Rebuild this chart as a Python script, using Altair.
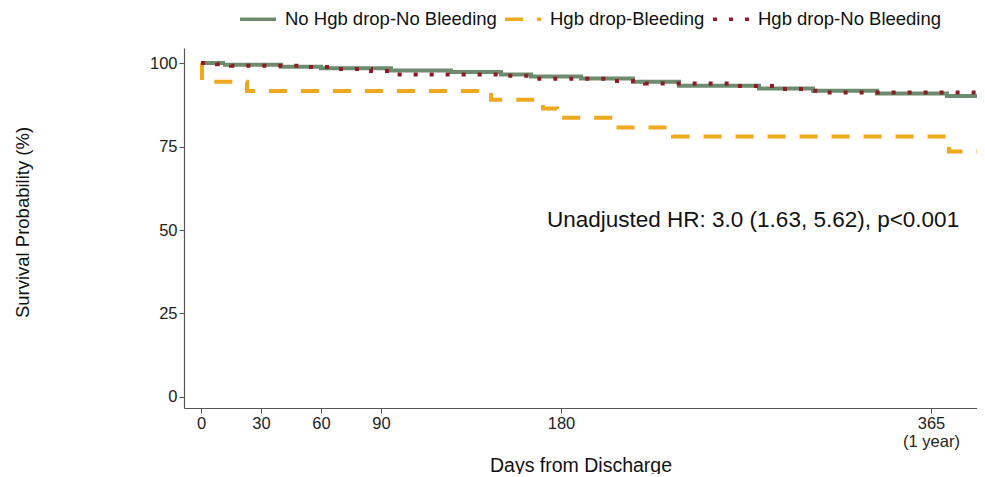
import altair as alt
import pandas as pd

series_names = ["No Hgb drop-No Bleeding", "Hgb drop-Bleeding", "Hgb drop-No Bleeding"]
series_colors = ["#6D8B6F", "#F0A81E", "#8E1B26"]
series_dash = [[1, 0], [18, 14], [4, 12]]

green_days = [0, 12, 40, 60, 95, 125, 150, 165, 190, 216, 239, 279, 306, 338, 373, 395]
green_surv = [100, 99.5, 98.9, 98.4, 97.8, 97.3, 96.6, 96.0, 95.4, 94.4, 93.2, 92.4, 91.7, 90.9, 90.1, 89.7]

orange_days = [0, 0.5, 23, 145, 171, 178, 206, 236, 374, 391, 395]
orange_surv = [100, 94.4, 91.6, 89.0, 86.4, 83.6, 80.7, 78.0, 73.5, 68.5, 68.5]

red_days = [0, 8, 15, 50, 65, 85, 95, 150, 165, 205, 222, 268, 290, 302, 310, 395]
red_surv = [100, 99.6, 99.2, 98.8, 98.2, 97.6, 96.6, 96.2, 95.3, 94.6, 93.9, 93.1, 92.2, 91.7, 91.2, 91.2]

x_ticks = [0, 30, 60, 90, 180, 365]
y_ticks = [0, 25, 50, 75, 100]

hr_text = ["Unadjusted HR: 3.0 (1.63, 5.62), p<0.001"]
hr_x = [173]
hr_y = [53.0]

rows = []
for name, days, surv in zip(series_names, [green_days, orange_days, red_days],
                            [green_surv, orange_surv, red_surv]):
    for d, s in zip(days, surv):
        rows.append({"group": name, "day": d, "surv": s})
df = pd.DataFrame(rows)

FONT = "Liberation Sans"

x_enc = alt.X(
    "day:Q",
    scale=alt.Scale(domain=[-8.5, 388], nice=False, zero=False),
    axis=alt.Axis(
        values=x_ticks,
        title="Days from Discharge",
        labelExpr="datum.value == 365 ? ['365', '(1 year)'] : datum.label",
        titleY=57,
        titleBaseline="middle",
    ),
)
y_enc = alt.Y(
    "surv:Q",
    scale=alt.Scale(domain=[-3.3, 104.5], nice=False, zero=False),
    axis=alt.Axis(
        values=y_ticks,
        title="Survival Probability (%)",
        titleX=-162,
        titleY=174,
        titleBaseline="middle",
    ),
)

legend = alt.Legend(
    title=None,
    orient="none",
    direction="horizontal",
    legendX=54,
    legendY=-49,
    columns=3,
    symbolType="stroke",
    symbolSize=1300,
    symbolStrokeWidth=3.5,
    labelFontSize=18.5,
    labelFont=FONT,
    labelColor="#111111",
    labelOffset=7,
    labelLimit=400,
    columnPadding=0,
    padding=0,
)

lines = alt.Chart(df).mark_line(
    interpolate="step-after", strokeWidth=4, clip=True, strokeCap="butt"
).encode(
    x=x_enc,
    y=y_enc,
    color=alt.Color("group:N", scale=alt.Scale(domain=series_names, range=series_colors),
                    legend=legend, sort=series_names),
    strokeDash=alt.StrokeDash("group:N", scale=alt.Scale(domain=series_names, range=series_dash),
                              legend=legend, sort=series_names),
)

ann_df = pd.DataFrame({"x": hr_x, "y": hr_y, "t": hr_text})
ann = alt.Chart(ann_df).mark_text(
    align="left", baseline="middle", fontSize=22.5, font=FONT, color="#111111"
).encode(x="x:Q", y="y:Q", text="t:N")

chart = alt.layer(lines, ann).properties(
    width=793,
    height=360,
    padding={"left": 176, "top": 40, "right": 0, "bottom": 66},
    autosize=alt.AutoSizeParams(type="none"),
).configure_view(
    stroke=None
).configure_axis(
    labelFont=FONT,
    titleFont=FONT,
    labelFontSize=16.5,
    labelColor="#222222",
    titleColor="#111111",
    titleFontWeight="normal",
    domainColor="#555555",
    domainWidth=1.2,
    tickColor="#555555",
    tickSize=5,
    labelPadding=2,
    grid=False,
).configure_axisX(
    titleFontSize=19.5,
).configure_axisY(
    titleFontSize=18.5,
)

chart.save("out.html", embed_options={"renderer": "svg", "actions": False})
